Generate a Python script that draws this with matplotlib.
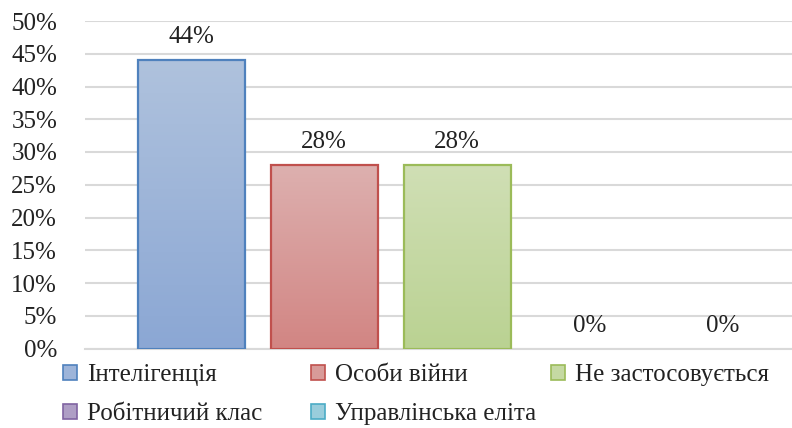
import numpy as np
import matplotlib
matplotlib.use("Agg")
import matplotlib.pyplot as plt
from matplotlib.colors import LinearSegmentedColormap, to_rgb
from matplotlib.patches import Rectangle

plt.rcParams['font.family'] = ['Liberation Serif', 'DejaVu Serif']

# data
series = ["Інтелігенція", "Особи війни", "Не застосовується",
          "Робітничий клас", "Управлінська еліта"]
values = [44, 28, 28, 0, 0]
labels = ["44%", "28%", "28%", "0%", "0%"]
y_ticks = [0, 5, 10, 15, 20, 25, 30, 35, 40, 45, 50]

# styles
edge_cols = ["#4F81BD", "#C0504D", "#9BBB59", "#8064A2", "#4BACC6"]
top_cols = ["#AFC2DD", "#DDB0AF", "#D0DFB5", "#BCAFCE", "#ACD6E3"]
bot_cols = ["#8BA7D4", "#D28583", "#BAD292", "#9F8DBC", "#86C3D5"]
FS = 18

fig = plt.figure(figsize=(7.92, 4.28), dpi=100)
ax = fig.add_axes([85 / 792, 1 - 348.5 / 428, 1 - 85 / 792, (348.5 - 21) / 428])

x = np.arange(len(series))
bars = ax.bar(x, values, width=0.805, color="none", edgecolor=edge_cols,
              linewidth=1.6, zorder=3)

grad = np.linspace(1, 0, 256).reshape(-1, 1)
for b, tc, bc in zip(bars, top_cols, bot_cols):
    if b.get_height() <= 0:
        b.set_linewidth(0)
        continue
    cmap = LinearSegmentedColormap.from_list("g", [bc, tc])
    im = ax.imshow(grad, cmap=cmap, aspect="auto", zorder=2,
                   extent=[b.get_x(), b.get_x() + b.get_width(), 0, b.get_height()],
                   vmin=0, vmax=1)
    im.set_clip_path(b)

ax.set_xlim(-0.8, 4.52)
ax.set_ylim(0, 50)

for xi, v, lab in zip(x, values, labels):
    ax.annotate(lab, (xi, v), xytext=(0, 23), textcoords="offset pixels",
                ha="center", va="center", fontsize=FS, color="#222222")

ax.set_yticks(y_ticks)
ax.set_yticklabels([f"{t}%" for t in y_ticks], fontsize=FS, color="#222222")
ax.set_xticks([])
ax.tick_params(axis="y", length=0, pad=20)
ax.grid(axis="y", color="#D9D9D9", linewidth=1.5, zorder=0)
ax.set_axisbelow(True)
for s in ["top", "right", "left"]:
    ax.spines[s].set_visible(False)
ax.spines["bottom"].set_color("#D9D9D9")
ax.spines["bottom"].set_linewidth(1.5)

handles = [Rectangle((0, 0), 1, 1,
                     facecolor=(np.array(to_rgb(t)) + np.array(to_rgb(b))) / 2,
                     edgecolor=e, linewidth=1.2)
           for t, b, e in zip(top_cols, bot_cols, edge_cols)]

# legend: three columns, laid out row by row like the original
columns = [[0, 3], [1, 4], [2]]
col_x = [63, 311, 551]
for idx, cx in zip(columns, col_x):
    fig.legend([handles[i] for i in idx], [series[i] for i in idx],
               loc="upper left", bbox_to_anchor=(cx / 792, 1 - 364 / 428),
               frameon=False, prop={"family": "Liberation Serif", "size": FS},
               handlelength=0.55, handleheight=0.55,
               handletextpad=0.4, labelspacing=0.68,
               borderpad=0, borderaxespad=0, labelcolor="#222222")

fig.savefig("out.png", dpi=100)
